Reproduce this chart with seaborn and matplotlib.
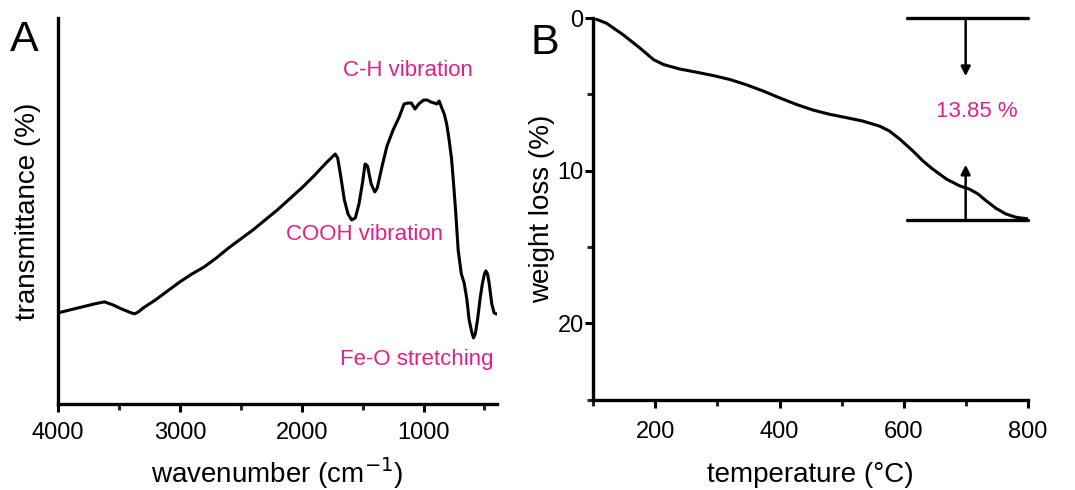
import numpy as np
import pandas as pd
import seaborn as sns
import matplotlib.pyplot as plt
from matplotlib.ticker import MultipleLocator, NullLocator

sns.set_theme(style="white")
plt.rcParams['font.family'] = ['Liberation Sans', 'DejaVu Sans']
plt.rcParams['text.color'] = 'black'
plt.rcParams['axes.labelcolor'] = 'black'

# FTIR spectrum (panel A), arbitrary transmittance units
wavenumber = [4000, 3900, 3800, 3700, 3620, 3550, 3480, 3400, 3370, 3340, 3300, 3200, 3100,
              3000, 2900, 2800, 2700, 2600, 2500, 2400, 2300, 2200, 2100, 2000, 1900,
              1800, 1750, 1725, 1705, 1680, 1650, 1620, 1590, 1560, 1530, 1500, 1480,
              1460, 1430, 1400, 1380, 1340, 1300, 1250, 1200, 1160, 1130, 1100, 1070,
              1040, 1000, 970, 940, 910, 890, 872, 850, 830, 810, 790, 770, 754, 735,
              716, 690, 667, 645, 626, 605, 590, 575, 557, 535, 516, 500, 489, 475,
              462, 440, 421, 405, 400]
transmittance = [91, 94, 97, 100, 102, 99, 95, 91, 90, 92, 96, 104, 113,
                 122, 130, 137, 146, 156, 165, 174, 184, 194, 205, 216, 228,
                 241, 247, 250, 246, 228, 204, 190, 184, 186, 200, 222, 240,
                 238, 220, 212, 216, 238, 258, 274, 287, 300, 301, 301, 295,
                 300, 304, 304, 302, 301, 300, 303, 296, 290, 280, 264, 245, 221, 190,
                 154, 130, 121, 105, 84, 72, 66, 70, 84, 106, 121, 130, 133, 130,
                 121, 100, 91, 90, 90]
ftir_labels = ['C-H vibration', 'COOH vibration', 'Fe-O stretching']
ftir_label_x = [1130, 1485, 1055]
ftir_label_y = [334, 169, 44]

# TGA curve (panel B)
temperature = [100, 121, 148, 175, 197, 213, 239, 266, 293, 320, 347, 374, 400, 427, 454,
               481, 508, 534, 561, 577, 594, 615, 631, 647, 669, 690, 706, 720, 733,
               749, 765, 781, 800]
weight_loss = [0, 0.33, 1.09, 1.96, 2.72, 3.04, 3.33, 3.54, 3.76, 4.02, 4.37, 4.78, 5.22,
               5.65, 6.02, 6.30, 6.52, 6.74, 7.07, 7.39, 7.93, 8.70, 9.35, 9.89, 10.54,
               10.98, 11.2, 11.52, 11.96, 12.46, 12.83, 13.04, 13.15]
loss_top, loss_bottom = 0, 13.2
loss_text = '13.85 %'

pink = '#E0208A'
ftir = pd.DataFrame({'wavenumber': wavenumber, 'transmittance': transmittance})
tga = pd.DataFrame({'temperature': temperature, 'weight_loss': weight_loss})

fig = plt.figure(figsize=(10.75, 4.9), dpi=100)
ax1 = fig.add_axes([0.054, 0.176, 0.408, 0.787])
ax2 = fig.add_axes([0.552, 0.184, 0.404, 0.779])

for ax in (ax1, ax2):
    for s in ['top', 'right']:
        ax.spines[s].set_visible(False)
    for s in ['left', 'bottom']:
        ax.spines[s].set_linewidth(2.4)
        ax.spines[s].set_color('black')
    ax.tick_params(which='major', direction='out', length=6, width=2.2, labelsize=17,
                   colors='black', bottom=True, left=True)
    ax.tick_params(which='minor', direction='out', length=4, width=2.2, bottom=True, left=True)
    ax.tick_params(axis='x', pad=7)
    ax.tick_params(axis='y', pad=1)
    ax.grid(False)

# panel A
sns.lineplot(data=ftir, x='wavenumber', y='transmittance', ax=ax1, color='black', lw=2.2)
ax1.set_xlim(4000, 400)
ax1.set_ylim(0, 386)
ax1.xaxis.set_major_locator(MultipleLocator(1000))
ax1.xaxis.set_minor_locator(MultipleLocator(500))
ax1.yaxis.set_major_locator(NullLocator())
ax1.set_xlabel('wavenumber (cm$^{-1}$)', size=20, labelpad=8)
ax1.set_ylabel('transmittance (%)', size=20, labelpad=12)
for t, x, y in zip(ftir_labels, ftir_label_x, ftir_label_y):
    ax1.text(x, y, t, color=pink, fontsize=16, ha='center', va='center')

# panel B
sns.lineplot(data=tga, x='temperature', y='weight_loss', ax=ax2, color='black', lw=2.2)
ax2.set_xlim(100, 800)
ax2.set_ylim(25, 0)
ax2.xaxis.set_major_locator(MultipleLocator(200))
ax2.xaxis.set_minor_locator(MultipleLocator(100))
ax2.yaxis.set_major_locator(MultipleLocator(10))
ax2.yaxis.set_minor_locator(MultipleLocator(5))
ax2.tick_params(axis='x', pad=9)
ax2.set_xlabel('temperature (°C)', size=20, labelpad=14)
ax2.set_ylabel('weight loss (%)', size=20, labelpad=2)
ax2.plot([605, 800], [loss_top, loss_top], color='black', lw=2.4, clip_on=False)
ax2.plot([605, 800], [loss_bottom, loss_bottom], color='black', lw=2.4, clip_on=False)
ax2.annotate('', xy=(700, 3.8), xytext=(700, loss_top),
             arrowprops=dict(arrowstyle='-|>', color='black', lw=1.8, mutation_scale=14,
                             shrinkA=0, shrinkB=0))
ax2.annotate('', xy=(700, 9.6), xytext=(700, loss_bottom),
             arrowprops=dict(arrowstyle='-|>', color='black', lw=1.8, mutation_scale=14,
                             shrinkA=0, shrinkB=0))
ax2.text(718, 6.1, loss_text, color=pink, fontsize=16, ha='center', va='center')

fig.text(0.023, 0.918, 'A', fontsize=31, ha='center', va='center')
fig.text(0.507, 0.912, 'B', fontsize=31, ha='center', va='center')

fig.savefig('out.png', dpi=100)
